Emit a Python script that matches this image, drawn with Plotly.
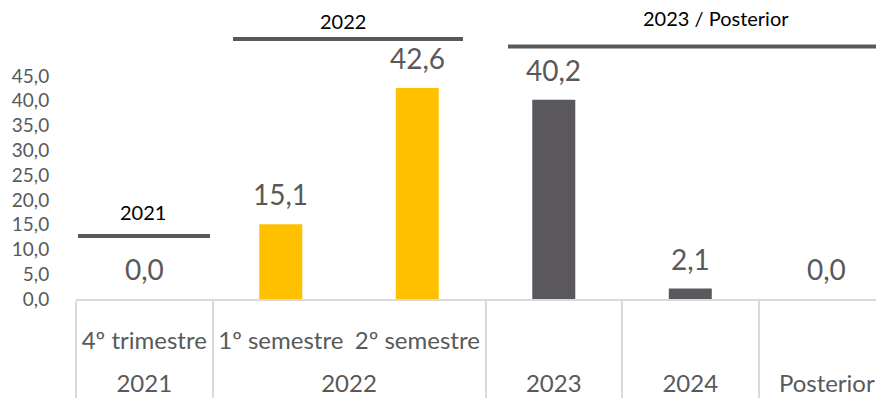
import plotly.graph_objects as go

groups = ["2021", "2022", "2022", "2023", "2024", "Posterior"]
subcats = ["4º trimestre", "1º semestre", "2º semestre", " ", "  ", "   "]
values = [0.0, 15.1, 42.6, 40.2, 2.1, 0.0]
colors = ["#FFC000", "#FFC000", "#FFC000", "#5A585D", "#5A585D", "#5A585D"]
y_ticks = [0, 5, 10, 15, 20, 25, 30, 35, 40, 45]

period_labels = ["2021", "2022", "2023 / Posterior"]

# page body has an 8px margin; figure is sized to fill the rest of the window
OFF = 8
W, H = 884 - OFF, 403 - OFF
L, R, T, B = 76 - OFF, 0, 76 - OFF, 104
FONT = "Lato"
GRAY = "#595959"
LINE = "#5A585D"

fig = go.Figure()
fig.add_trace(go.Bar(
    x=[groups, [s + "<br> " for s in subcats]],
    y=values,
    marker=dict(color=colors, line=dict(width=0)),
    width=0.315,
    hoverinfo="skip",
))

# data labels
for i, v in enumerate(values):
    fig.add_annotation(
        x=i, y=v, xref="x", yref="y",
        text=f"{v:.1f}".replace(".", ","),
        showarrow=False, yshift=30,
        xanchor="center", yanchor="middle",
        font=dict(family=FONT, size=28, color=GRAY),
    )

pw = W - L - R
ph = H - T - B
def px(x):
    return (x - OFF - L) / pw
def py(y):
    return (H - B - (y - OFF)) / ph

# period bracket lines and labels (positions in window pixels)
brackets = [
    (78, 210, 236, 143, 212),
    (233, 463, 39, 343, 21),
    (508, 884, 46.5, 716, 18),
]
for (x0, x1, yl, xt, yt), lab in zip(brackets, period_labels):
    fig.add_shape(type="line", xref="paper", yref="paper",
                  x0=px(x0), x1=px(x1), y0=py(yl), y1=py(yl),
                  line=dict(color=LINE, width=4))
    fig.add_annotation(xref="paper", yref="paper", x=px(xt), y=py(yt),
                       text=lab, showarrow=False,
                       xanchor="center", yanchor="middle",
                       font=dict(family=FONT, size=20, color="#000000"))

fig.update_layout(
    width=W, height=H,
    margin=dict(l=L, r=R, t=T, b=B, autoexpand=False),
    paper_bgcolor="white", plot_bgcolor="white",
    showlegend=False,
    separators=",.",
    font=dict(family=FONT, color=GRAY),
    xaxis=dict(
        type="multicategory",
        range=[-0.5, 5.419],
        showgrid=False,
        showline=True, linecolor="#D9D9D9", linewidth=2,
        showdividers=True, dividercolor="#D9D9D9", dividerwidth=2,
        tickfont=dict(family=FONT, size=24, color=GRAY),
        ticks="",
        ticklabelstandoff=19,
    ),
    yaxis=dict(
        range=[0, 45],
        tickvals=y_ticks,
        tickformat=".1f",
        showgrid=False, zeroline=False, showline=False,
        tickfont=dict(family=FONT, size=19, color=GRAY),
        ticks="outside", ticklen=22, tickcolor="rgba(0,0,0,0)",
    ),
)

fig.write_html("out.html")
